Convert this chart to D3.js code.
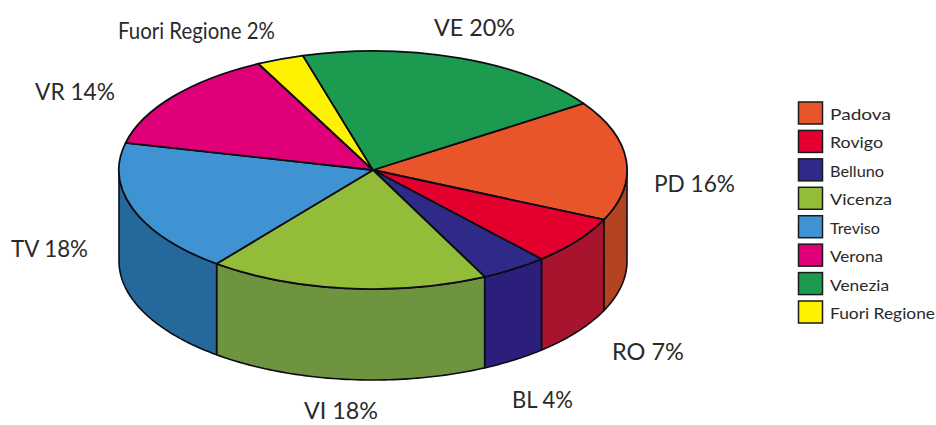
<!DOCTYPE html>
<html>
<head>
<meta charset="utf-8">
<script src="https://cdn.jsdelivr.net/npm/d3@7/dist/d3.min.js"></script>
<style>
html,body{margin:0;padding:0;background:#fff}
svg{display:block}
text{font-family:Lato,"Open Sans",sans-serif;fill:#2a2a2a}
</style>
</head>
<body>
<svg id="chart" width="936" height="425"></svg>
<script>
// Legend order
const categories = ["Padova","Rovigo","Belluno","Vicenza","Treviso","Verona","Venezia","Fuori Regione"];
const codes = ["PD","RO","BL","VI","TV","VR","VE","Fuori Regione"];
const printedPercent = [16,7,4,18,18,14,20,2];
// Slice sizes as drawn in the picture (the drawing is not strictly proportional to its printed labels)
const drawnShare = [16.3,6.6,4.3,17.8,18.1,13.9,20.0,3.0];
// Clockwise order of the slices round the pie
const sliceOrder = ["Padova","Rovigo","Belluno","Vicenza","Treviso","Verona","Fuori Regione","Venezia"];

const topColors = ["#e9552b","#e3002f","#2f2a88","#93bd38","#3f93d3","#df0079","#1b9a50","#fff200"];
const wallColors = ["#b4441f","#a8142e","#2c1f7c","#6f9440","#24689c","#a80060","#147a3f","#c9bf00"];

const W = 936, H = 425;
const cx = 373, cy = 170, rx = 254, ry = 119, depth = 91;
const startDeg = 56;
const labelX = [654,612,512,304,11,35,434,118];
const labelY = [186,354,402,413,251,94,30,33];
const labelW = [81,72,61,74,77,80,81,157];
const legendW = [61,53,54,62,50,53,59,105];

const svg = d3.select("#chart");
const TAU = Math.PI*2;
const start = startDeg*Math.PI/180;
const idx = name => categories.indexOf(name);
const pie = d3.pie().sort(null).value(n=>drawnShare[idx(n)]).startAngle(start).endAngle(start+TAU);
const arcs = pie(sliceOrder);

const px = a => cx + rx*Math.sin(a);
const py = a => cy - ry*Math.cos(a);

// Walls: visible part of the rim is the lower half of the ellipse
function wallRanges(a0,a1){
  const out=[];
  for(let k=0;k<2;k++){
    const lo=Math.PI/2+k*TAU, hi=3*Math.PI/2+k*TAU;
    const s=Math.max(a0,lo), e=Math.min(a1,hi);
    if(e>s) out.push([s,e]);
  }
  return out;
}
const wallPath = (s,e)=>{
  const n=60, top=d3.range(n+1).map(i=>s+(e-s)*i/n);
  const pts=top.map(a=>[px(a),py(a)]).concat(top.slice().reverse().map(a=>[px(a),py(a)+depth]));
  return d3.line()(pts)+"Z";
};
const walls = svg.append("g");
arcs.forEach(d=>{
  wallRanges(d.startAngle,d.endAngle).forEach(([s,e])=>{
    walls.append("path").attr("d",wallPath(s,e))
      .attr("fill",wallColors[idx(d.data)]).attr("stroke","#0c0c12").attr("stroke-width",1.6).attr("stroke-linejoin","round");
  });
});

// Top face: a flat pie squashed into an ellipse
const unitArc = d3.arc().innerRadius(0).outerRadius(1);
svg.append("g").attr("transform",`translate(${cx},${cy}) scale(${rx},${ry})`)
  .selectAll("path").data(arcs).join("path")
  .attr("d",unitArc)
  .attr("fill",d=>topColors[idx(d.data)])
  .attr("stroke","#0c0c12")
  .attr("stroke-width",1.8)
  .attr("stroke-linejoin","round")
  .attr("vector-effect","non-scaling-stroke");

// Slice labels
svg.append("g").selectAll("text").data(categories).join("text")
  .attr("x",(d,i)=>labelX[i]).attr("y",(d,i)=>labelY[i])
  .attr("dominant-baseline","middle")
  .attr("font-size",23)
  .attr("textLength",(d,i)=>labelW[i])
  .attr("lengthAdjust","spacingAndGlyphs")
  .text((d,i)=>`${codes[i]} ${printedPercent[i]}%`);

// Legend
const legendY = d3.scalePoint().domain(categories).range([113,312]);
const legend = svg.append("g").selectAll("g").data(categories).join("g")
  .attr("transform",d=>`translate(798,${legendY(d)})`);
legend.append("rect").attr("x",0.5).attr("y",-11).attr("width",24).attr("height",22)
  .attr("fill",(d,i)=>topColors[i]).attr("stroke","#1a1a1a").attr("stroke-width",1.5);
legend.append("text").attr("x",32).attr("y",3).attr("dominant-baseline","middle")
  .attr("font-size",16)
  .attr("textLength",(d,i)=>legendW[i])
  .attr("lengthAdjust","spacingAndGlyphs")
  .text(d=>d);
</script>
</body>
</html>
